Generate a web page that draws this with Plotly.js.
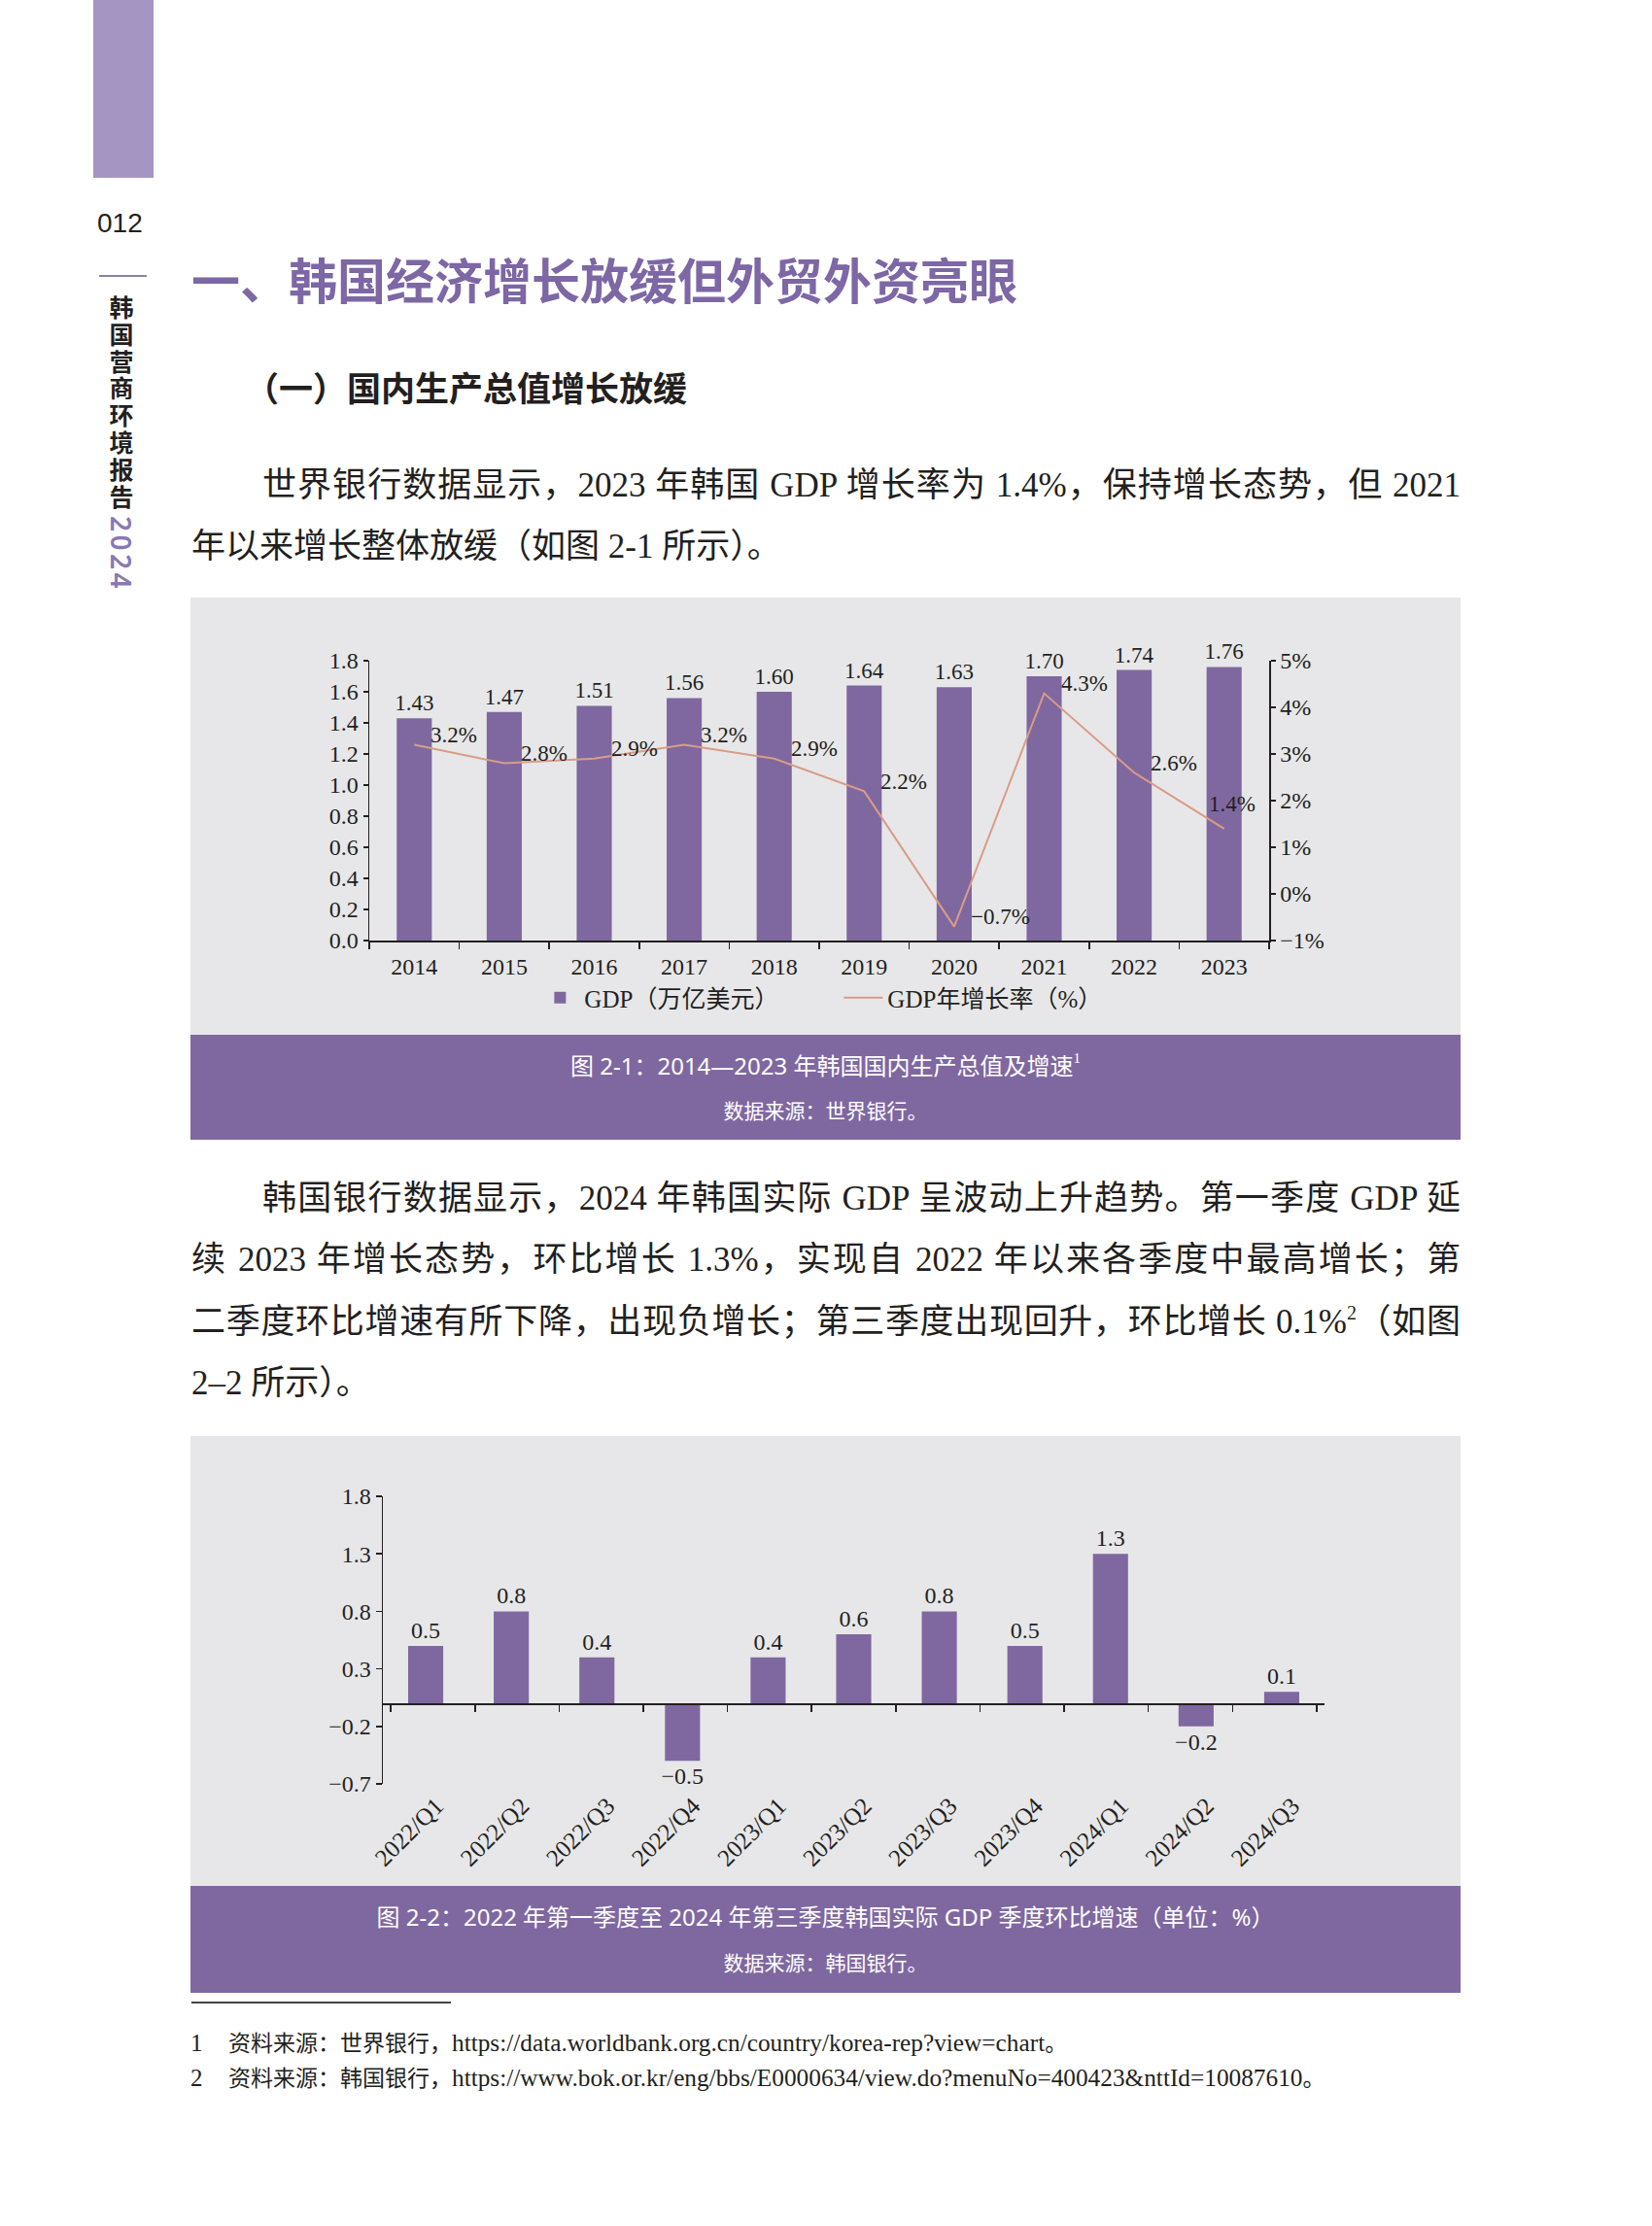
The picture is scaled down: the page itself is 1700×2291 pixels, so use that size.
<!DOCTYPE html>
<html lang="zh-CN">
<head>
<meta charset="utf-8">
<script src="https://cdn.plot.ly/plotly-3.0.1.min.js"></script>
<style>
  html, body { margin: 0; padding: 0; background: #ffffff; }
  body { width: 1700px; height: 2291px; position: relative; overflow: hidden;
         font-family: "Liberation Serif", "Noto Sans CJK SC", serif; color: #231f20; }
  .abs { position: absolute; }
  .sidebar { left: 96px; top: 0; width: 62px; height: 183px; background: #a495c2; }
  .pageno { left: 100px; top: 212px; font-family: "Liberation Sans", "Noto Sans", sans-serif; font-size: 28px; line-height: 36px; color: #231f20; }
  .rule { left: 102px; top: 283px; width: 49px; height: 2px; background: #8b80a2; }
  .vert { left: 110px; top: 304px; writing-mode: vertical-rl; font-family: "Noto Sans CJK SC", sans-serif; font-size: 25px; font-weight: 700; letter-spacing: 2.8px; line-height: 30px; color: #231f20; }
  .vert .yr { font-family: "Noto Sans", sans-serif; font-weight: 600; font-size: 28px; letter-spacing: 3.5px; color: #8a78b2; margin-top: 5px; display: inline-block; }
  .h1 { left: 197px; top: 256px; font-family: "Noto Sans CJK SC", sans-serif; font-weight: 700; font-size: 50px; line-height: 60px; color: #7d67a5; white-space: nowrap; }
  .h2 { left: 252px; top: 376px; font-family: "Noto Sans CJK SC", sans-serif; font-weight: 700; font-size: 35px; line-height: 44px; color: #231f20; white-space: nowrap; }
  .line { font-size: 35px; line-height: 44px; height: 44px; white-space: nowrap; color: #231f20; }
  .just { text-align: justify; text-align-last: justify; }
  .line sup { font-size: 20px; line-height: 0; vertical-align: 14px; }
  .chartbox { left: 196px; width: 1307px; background: #e7e7e9; }
  .cap { left: 196px; width: 1307px; background: #7f68a0; color: #ffffff; text-align: center; font-family: "Noto Sans", "Noto Sans CJK SC", sans-serif; }
  .cap .t { position: absolute; left: 0; width: 100%; font-size: 24px; line-height: 30px; }
  .cap .s { position: absolute; left: 0; width: 100%; font-size: 21px; line-height: 28px; }
  .cap sup { font-family: "Liberation Serif", serif; font-size: 15px; line-height: 0; vertical-align: 12px; }
  .fnrule { left: 197px; top: 2060px; width: 267px; height: 2px; background: #444; }
  .fn { left: 196px; font-size: 23px; line-height: 30px; white-space: nowrap; color: #231f20; }
  .fn .n { display: inline-block; width: 39px; font-size: 25px; }
  .fn .u { font-size: 25.3px; }
</style>
</head>
<body>
<div class="abs sidebar"></div>
<div class="abs pageno">012</div>
<div class="abs rule"></div>
<div class="abs vert">韩国营商环境报告<span class="yr">2024</span></div>

<div class="abs h1">一、韩国经济增长放缓但外贸外资亮眼</div>
<div class="abs h2">（一）国内生产总值增长放缓</div>

<div class="abs line just" style="left:270px; width:1233px; top:478px;">世界银行数据显示，2023 年韩国 GDP 增长率为 1.4%，保持增长态势，但 2021</div>
<div class="abs line" style="left:197px; top:541px;">年以来增长整体放缓（如图 2-1 所示）。</div>

<div class="abs chartbox" style="top:615px; height:450px;"><div id="chart1" style="width:1307px; height:450px;"></div></div>
<div class="abs cap" style="top:1065px; height:108px;">
  <div class="t" style="top:17px;">图 2-1：2014—2023 年韩国国内生产总值及增速<sup>1</sup></div>
  <div class="s" style="top:64px;">数据来源：世界银行。</div>
</div>

<div class="abs line just" style="left:270px; width:1233px; top:1212px;">韩国银行数据显示，2024 年韩国实际 GDP 呈波动上升趋势。第一季度 GDP 延</div>
<div class="abs line just" style="left:197px; width:1306px; top:1275px;">续 2023 年增长态势，环比增长 1.3%，实现自 2022 年以来各季度中最高增长；第</div>
<div class="abs line just" style="left:197px; width:1306px; top:1339px;">二季度环比增速有所下降，出现负增长；第三季度出现回升，环比增长 0.1%<sup>2</sup>（如图</div>
<div class="abs line" style="left:197px; top:1402px;">2–2 所示）。</div>

<div class="abs chartbox" style="top:1478px; height:463px;"><div id="chart2" style="width:1307px; height:463px;"></div></div>
<div class="abs cap" style="top:1941px; height:110px;">
  <div class="t" style="top:17px;">图 2-2：2022 年第一季度至 2024 年第三季度韩国实际 GDP 季度环比增速（单位：%）</div>
  <div class="s" style="top:65px;">数据来源：韩国银行。</div>
</div>

<div class="abs fnrule"></div>
<div class="abs fn" style="top:2087px;"><span class="n">1</span>资料来源：世界银行，<span class="u">https://data.worldbank.org.cn/country/korea-rep?view=chart</span>。</div>
<div class="abs fn" style="top:2123px;"><span class="n">2</span>资料来源：韩国银行，<span class="u">https://www.bok.or.kr/eng/bbs/E0000634/view.do?menuNo=400423&amp;nttId=10087610</span>。</div>

<script>
// ---------- Data ----------
const years = ['2014', '2015', '2016', '2017', '2018', '2019', '2020', '2021', '2022', '2023'];
const gdpTrillionUSD = [1.43, 1.47, 1.51, 1.56, 1.60, 1.64, 1.63, 1.70, 1.74, 1.76];
const gdpGrowthPct = [3.2, 2.8, 2.9, 3.2, 2.9, 2.2, -0.7, 4.3, 2.6, 1.4];

const quarters = ['2022/Q1', '2022/Q2', '2022/Q3', '2022/Q4', '2023/Q1', '2023/Q2',
                  '2023/Q3', '2023/Q4', '2024/Q1', '2024/Q2', '2024/Q3'];
const qoqGrowthPct = [0.5, 0.8, 0.4, -0.5, 0.4, 0.6, 0.8, 0.5, 1.3, -0.2, 0.1];

const seriesNames = ['GDP（万亿美元）', 'GDP年增长率（%）'];

// ---------- Styles ----------
const FONT = 'Liberation Serif, Noto Sans CJK SC, serif';
const INK = '#231f20';
const BAR = '#7f68a0';
const LINE = '#d99c86';
const BG = '#e7e7e9';

const fmtPct = v => (v < 0 ? '\u2212' + Math.abs(v).toFixed(1) : v.toFixed(1)) + '%';

// ---------- Chart 1 ----------
const c1Traces = [
  {
    type: 'bar', x: years, y: gdpTrillionUSD, name: seriesNames[0],
    marker: { color: BAR },
    text: gdpTrillionUSD.map(v => v.toFixed(2)), textposition: 'outside',
    textfont: { family: FONT, size: 23, color: INK },
    constraintext: 'none', cliponaxis: false, hoverinfo: 'skip'
  },
  {
    type: 'scatter', mode: 'lines', x: years, y: gdpGrowthPct, yaxis: 'y2',
    name: seriesNames[1], line: { color: LINE, width: 2 }, hoverinfo: 'skip'
  }
];

// category index of each year on the category axis; the last label is lifted
// so that it stays clear of the right-hand axis
const c1Annotations = years.map((yr, i) => {
  const last = i === years.length - 1;
  return {
    x: years.indexOf(yr), y: gdpGrowthPct[i], xref: 'x', yref: 'y2',
    text: fmtPct(gdpGrowthPct[i]), showarrow: false,
    xanchor: last ? 'center' : 'left', yanchor: 'middle',
    xshift: last ? 8 : 15, yshift: last ? 25 : 10,
    font: { family: FONT, size: 23, color: INK }
  };
});

const axisCommon = {
  showline: true, linecolor: INK, linewidth: 1.5, ticks: 'outside',
  tickcolor: INK, tickwidth: 1.5, showgrid: false, zeroline: false,
  tickfont: { family: FONT, size: 24, color: INK }, fixedrange: true
};

const c1Layout = {
  width: 1307, height: 450,
  margin: { l: 184, r: 197, t: 65, b: 97 },
  paper_bgcolor: BG, plot_bgcolor: BG,
  font: { family: FONT, size: 24, color: INK },
  bargap: 0.61,
  showlegend: true,
  legend: {
    orientation: 'h', x: 0.522, xanchor: 'center', y: -0.205, yanchor: 'middle',
    font: { family: FONT, size: 25, color: INK }, bgcolor: 'rgba(0,0,0,0)',
    itemwidth: 40, entrywidth: 257
  },
  xaxis: Object.assign({}, axisCommon, {
    type: 'category', categoryorder: 'array', categoryarray: years,
    range: [-0.5, years.length - 0.5],
    tickson: 'boundaries', ticklen: 7, ticklabelstandoff: 5, tickangle: 0
  }),
  yaxis: Object.assign({}, axisCommon, {
    range: [0, 1.8], tick0: 0, dtick: 0.2, tickformat: '.1f', ticklen: 5
  }),
  yaxis2: Object.assign({}, axisCommon, {
    overlaying: 'y', side: 'right', range: [-1, 5], tick0: -1, dtick: 1,
    ticksuffix: '%', ticklen: 5
  }),
  annotations: c1Annotations
};

Plotly.newPlot('chart1', c1Traces, c1Layout, { displayModeBar: false, staticPlot: true });

// ---------- Chart 2 ----------
const q2Range = [-0.7, 1.8];
const c2Traces = [
  {
    type: 'bar', x: quarters, y: qoqGrowthPct, name: '季度环比增速',
    marker: { color: BAR },
    text: qoqGrowthPct.map(v => (v < 0 ? '\u2212' + Math.abs(v).toFixed(1) : v.toFixed(1))),
    textposition: 'outside',
    textfont: { family: FONT, size: 24, color: INK },
    constraintext: 'none', cliponaxis: false, hoverinfo: 'skip', showlegend: false
  },
  {
    // invisible helper trace that carries the category axis drawn at y = 0
    type: 'scatter', mode: 'markers', x: quarters, y: qoqGrowthPct, xaxis: 'x2',
    marker: { opacity: 0, size: 1 }, hoverinfo: 'skip', showlegend: false
  }
];

const c2Layout = {
  width: 1307, height: 463,
  margin: { l: 198, r: 140, t: 62, b: 105 },
  paper_bgcolor: BG, plot_bgcolor: BG,
  font: { family: FONT, size: 24, color: INK },
  bargap: 0.59,
  showlegend: false,
  xaxis: {
    type: 'category', showline: false, ticks: '', showgrid: false, zeroline: false,
    tickangle: -45, ticklabelstandoff: 2, ticklabelshift: 11, fixedrange: true,
    tickfont: { family: FONT, size: 25, color: INK }
  },
  xaxis2: Object.assign({}, axisCommon, {
    type: 'category', overlaying: 'x', anchor: 'free',
    position: (0 - q2Range[0]) / (q2Range[1] - q2Range[0]),
    tickson: 'boundaries', ticklen: 7, showticklabels: false
  }),
  yaxis: Object.assign({}, axisCommon, {
    range: q2Range, tick0: -0.7, dtick: 0.5, tickformat: '.1f', ticklen: 6
  })
};

Plotly.newPlot('chart2', c2Traces, c2Layout, { displayModeBar: false, staticPlot: true });
</script>
</body>
</html>
